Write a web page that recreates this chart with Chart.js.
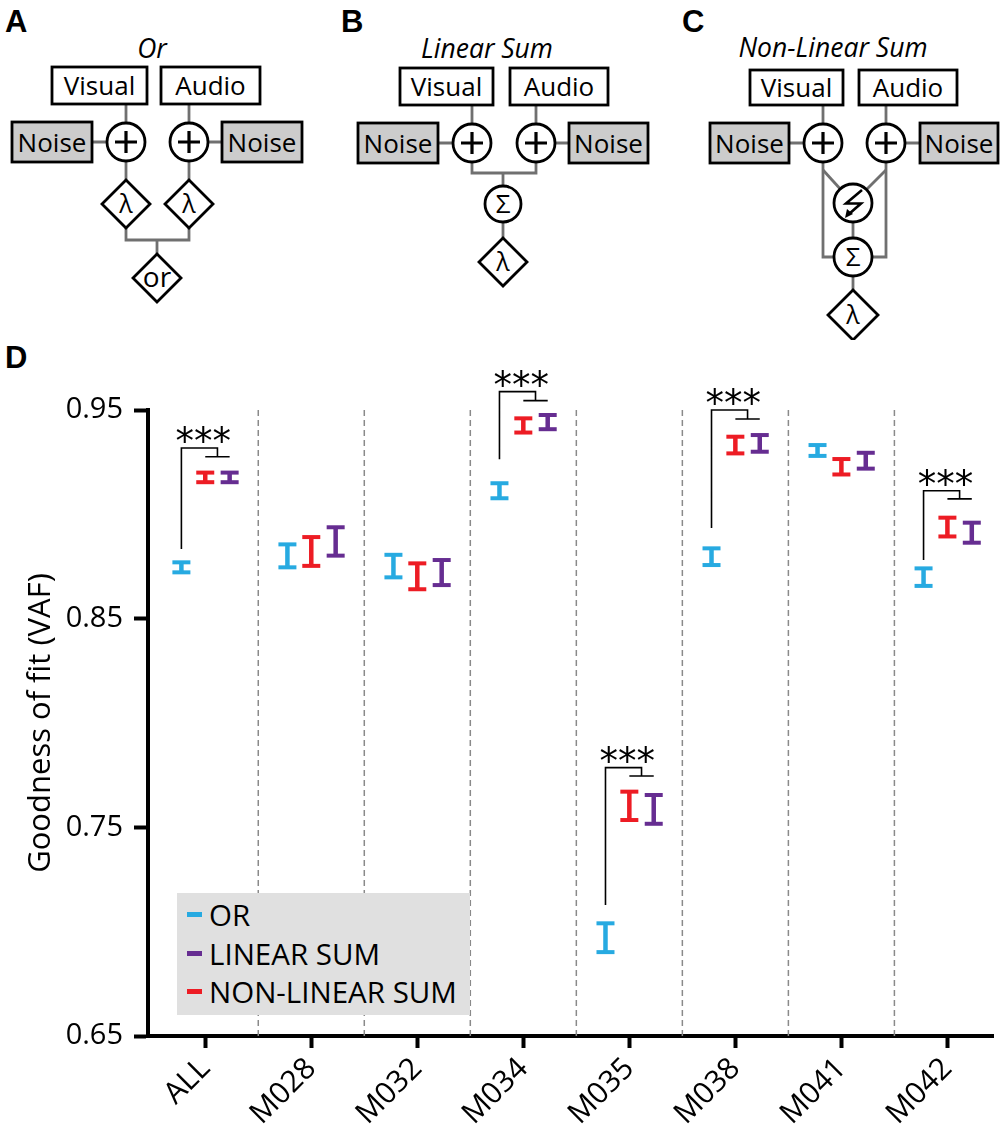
<!DOCTYPE html>
<html>
<head>
<meta charset="utf-8">
<script src="https://cdn.jsdelivr.net/npm/chart.js@4.4.1/dist/chart.umd.min.js"></script>
<style>
  body { margin: 0; background: #fff; }
  #page { position: relative; width: 1006px; height: 1131px; overflow: hidden; font-family: "Open Sans", sans-serif; }
  #diagrams { position: absolute; left: 0; top: 0; }
  #chartBox { position: absolute; left: 0; top: 340px; width: 1006px; height: 791px; }
  .panel { position: absolute; font: bold 31px "Liberation Sans", Arial, sans-serif; line-height: 1; }
  #legend { position: absolute; left: 177px; top: 893px; width: 293px; height: 122px; background: #e0e0e0; }
  .row { position: absolute; left: 0; height: 38px; line-height: 38px; font-size: 29.5px; color: #000; white-space: nowrap; }
  .row span.mark { position: absolute; left: 10px; top: 16px; width: 15px; height: 5px; }
  .row span.txt { position: absolute; left: 32px; top: 0; }
</style>
</head>
<body>
<div id="page">
  <svg id="diagrams" width="1006" height="340" xmlns="http://www.w3.org/2000/svg"></svg>
  <div class="panel" style="left:5px; top:6px;">A</div>
  <div class="panel" style="left:341px; top:6px;">B</div>
  <div class="panel" style="left:682px; top:6px;">C</div>
  <div class="panel" style="left:5px; top:342px;">D</div>
  <div id="chartBox"><canvas id="fit-chart" width="1006" height="791"></canvas></div>
  <div id="legend"></div>
</div>
<script>
// values
const categories = ['ALL', 'M028', 'M032', 'M034', 'M035', 'M038', 'M041', 'M042'];
const yTicks = [0.65, 0.75, 0.85, 0.95];

const orMean  = [0.8746, 0.8801, 0.8752, 0.9113, 0.6971, 0.8797, 0.9306, 0.8699];
const orErr   = [0.0024, 0.0055, 0.0054, 0.0036, 0.0069, 0.0040, 0.0026, 0.0042];
const linMean = [0.9177, 0.8870, 0.8721, 0.9442, 0.7586, 0.9340, 0.9257, 0.8912];
const linErr  = [0.0023, 0.0068, 0.0060, 0.0034, 0.0069, 0.0040, 0.0038, 0.0048];
const nlMean  = [0.9177, 0.8822, 0.8703, 0.9426, 0.7603, 0.9332, 0.9228, 0.8939];
const nlErr   = [0.0023, 0.0069, 0.0062, 0.0034, 0.0068, 0.0040, 0.0037, 0.0045];

// significance brackets (***)
const sigGroups  = ['ALL', 'M034', 'M035', 'M038', 'M042'];
const bracketLow = [0.8834, 0.9264, 0.7128, 0.8935, 0.8781];
const bracketTop = [0.9318, 0.9588, 0.7786, 0.9500, 0.9113];
const bracketSub = [0.9276, 0.9545, 0.7746, 0.9457, 0.9074];

const BLUE = 'rgb(39, 170, 225)';
const PURPLE = 'rgb(102, 45, 145)';
const RED = 'rgb(237, 28, 36)';

// ---------- panels A-C (model diagrams) ----------
const svg = document.getElementById('diagrams');
const WIRE = '#707070';
let out = '';

function wire(pts) {
    out += `<polyline points="${pts.join(' ')}" fill="none" stroke="${WIRE}" stroke-width="2.8"/>`;
}
function box(x1, y1, x2, y2, label, gray) {
    out += `<rect x="${x1}" y="${y1}" width="${x2 - x1}" height="${y2 - y1}" fill="${gray ? '#cccccc' : '#fff'}" stroke="#000" stroke-width="2.8"/>`;
    out += `<text x="${(x1 + x2) / 2}" y="${(y1 + y2) / 2 + 9.5}" font-size="26" text-anchor="middle">${label}</text>`;
}
function plus(cx, cy) {
    out += `<circle cx="${cx}" cy="${cy}" r="19" fill="#fff" stroke="#000" stroke-width="2.8"/>`;
    out += `<path d="M${cx - 11} ${cy} H${cx + 11} M${cx} ${cy - 11} V${cy + 11}" stroke="#000" stroke-width="3.2"/>`;
}
function circ(cx, cy, r, label) {
    out += `<circle cx="${cx}" cy="${cy}" r="${r}" fill="#fff" stroke="#000" stroke-width="2.8"/>`;
    if (label) out += `<text x="${cx}" y="${cy + 9}" font-size="26" text-anchor="middle">${label}</text>`;
}
function diamond(cx, cy, h, label, size) {
    out += `<polygon points="${cx},${cy - h} ${cx + h},${cy} ${cx},${cy + h} ${cx - h},${cy}" fill="#fff" stroke="#000" stroke-width="2.8"/>`;
    out += `<text x="${cx}" y="${cy + 8.5}" font-size="${size || 25}" text-anchor="middle">${label}</text>`;
}
function title(x, y, t) {
    out += `<text x="${x}" y="${y}" font-size="26.5" font-style="italic" text-anchor="middle">${t}</text>`;
}

// A: Or
title(152, 58, 'Or');
wire([126, 104, 126, 180]); wire([189, 104, 189, 180]);
wire([92, 142, 126, 142]); wire([189, 142, 222, 142]);
wire([126, 228, 126, 240, 189, 240, 189, 228]); wire([157, 240, 157, 254]);
box(52, 67, 147, 104, 'Visual'); box(161, 67, 260, 104, 'Audio');
box(12, 122, 92, 162, 'Noise', true); box(222, 122, 302, 162, 'Noise', true);
plus(126, 142); plus(189, 142);
diamond(126, 204, 24, 'λ'); diamond(189, 204, 24, 'λ');
diamond(157, 278, 24, 'or', 28);

// B: Linear Sum
title(487, 58, 'Linear Sum');
wire([472, 105, 472, 173, 536, 173, 536, 105]);
wire([438, 143, 472, 143]); wire([536, 143, 569, 143]);
wire([503, 173, 503, 262]);
box(400, 68, 493, 105, 'Visual'); box(510, 68, 608, 105, 'Audio');
box(358, 123, 438, 163, 'Noise', true); box(569, 123, 648, 163, 'Noise', true);
plus(472, 143); plus(536, 143);
circ(503, 204, 18, 'Σ');
diamond(503, 262, 24, 'λ');

// C: Non-Linear Sum
title(833, 57, 'Non-Linear Sum');
wire([789, 143, 823, 143]); wire([886, 143, 920, 143]);
wire([823, 105, 823, 257, 853, 257]); wire([886, 105, 886, 257, 853, 257]);
wire([823, 170, 843, 192]); wire([886, 170, 864, 192]);
wire([853, 203, 853, 315]);
box(750, 70, 843, 105, 'Visual'); box(859, 70, 957, 105, 'Audio');
box(710, 123, 789, 163, 'Noise', true); box(920, 123, 998, 163, 'Noise', true);
plus(823, 143); plus(886, 143);
circ(853, 203, 19, '');
out += '<path d="M862 190 L846 203.5 L861 203.5 L849 214" fill="none" stroke="#000" stroke-width="2.6"/>';
out += '<path d="M845 218 L847 209 L853 214 Z" fill="#000"/>';
circ(853, 257, 19, 'Σ');
diamond(853, 315, 25, 'λ');

svg.innerHTML = out;

// ---------- legend ----------
const legendItems = [['OR', BLUE], ['LINEAR SUM', PURPLE], ['NON-LINEAR SUM', RED]];
document.getElementById('legend').innerHTML = legendItems.map((it, k) =>
    `<div class="row" style="top:${3 + k * 38.5}px"><span class="mark" style="background:${it[1]}"></span><span class="txt">${it[0]}</span></div>`
).join('');

// ---------- panel D ----------
function errorStems(means, errs, off) {
    const pts = [];
    means.forEach((m, i) => {
        pts.push({x: i + off, y: m - errs[i]}, {x: i + off, y: m + errs[i]}, {x: i + off, y: null});
    });
    return pts;
}
function errorCaps(means, errs, off) {
    return means.flatMap((m, i) => [{x: i + off, y: m - errs[i]}, {x: i + off, y: m + errs[i]}]);
}
function series(means, errs, off, color) {
    return [{
        data: errorStems(means, errs, off),
        borderColor: color, borderWidth: 4.5, pointRadius: 0, clip: false
    }, {
        data: errorCaps(means, errs, off),
        showLine: false, pointStyle: 'line', pointRadius: 9,
        pointBorderColor: color, pointBorderWidth: 4, clip: false
    }];
}

const bracketPts = [];
sigGroups.forEach((g, k) => {
    const i = categories.indexOf(g);
    bracketPts.push(
        {x: i - 0.225, y: bracketLow[k]}, {x: i - 0.225, y: bracketTop[k]},
        {x: i + 0.115, y: bracketTop[k]}, {x: i + 0.115, y: bracketSub[k]}, {x: i, y: null},
        {x: i, y: bracketSub[k]}, {x: i + 0.23, y: bracketSub[k]}, {x: i, y: null}
    );
});

const sepPts = [];
for (let k = 0; k < categories.length - 1; k++) {
    sepPts.push({x: k + 0.5, y: yTicks[yTicks.length - 1]}, {x: k + 0.5, y: yTicks[0]}, {x: k + 0.5, y: null});
}

const starsPlugin = {
    id: 'stars',
    afterDatasetsDraw(chart) {
        const {ctx, scales: {x, y}} = chart;
        ctx.save();
        ctx.font = '37px "DejaVu Sans"';
        ctx.textAlign = 'center';
        ctx.textBaseline = 'alphabetic';
        ctx.fillStyle = '#000';
        sigGroups.forEach((g, k) => {
            const i = categories.indexOf(g);
            ctx.fillText('***', x.getPixelForValue(i) - 2, y.getPixelForValue(bracketTop[k]) + 6);
        });
        ctx.restore();
    }
};

new Chart(document.getElementById('fit-chart').getContext('2d'), {
    type: 'line',
    data: {
        datasets: [
            ...series(orMean, orErr, -0.225, BLUE),
            ...series(nlMean, nlErr, 0, RED),
            ...series(linMean, linErr, 0.23, PURPLE),
            {data: bracketPts, borderColor: '#000', borderWidth: 1.6, pointRadius: 0, clip: false},
            {data: sepPts, borderColor: '#8a8a8a', borderWidth: 1.5, borderDash: [6, 4], pointRadius: 0}
        ]
    },
    options: {
        responsive: false,
        animation: false,
        events: [],
        layout: {padding: {top: 70, right: 11, left: 0, bottom: 0}},
        plugins: {legend: {display: false}, tooltip: {enabled: false}},
        elements: {line: {tension: 0, borderCapStyle: 'butt'}},
        scales: {
            x: {
                type: 'linear',
                min: -0.54,
                max: 7.43,
                afterBuildTicks: scale => { scale.ticks = categories.map((c, i) => ({value: i})); },
                afterFit: scale => { scale.height = 95; },
                ticks: {
                    callback: value => categories[value],
                    autoSkip: false, minRotation: 45, maxRotation: 45,
                    font: {family: 'Open Sans', size: 30}, color: '#000', padding: 3
                },
                grid: {drawOnChartArea: false, drawTicks: true, tickLength: 12, tickWidth: 4, tickColor: '#000'},
                border: {display: true, color: '#000', width: 4}
            },
            y: {
                min: 0.65,
                max: 0.95,
                afterBuildTicks: scale => { scale.ticks = yTicks.map(v => ({value: v})); },
                afterFit: scale => { scale.width = 148; },
                ticks: {
                    callback: value => value.toFixed(2),
                    font: {family: 'Open Sans', size: 29}, color: '#000', padding: 11
                },
                title: {
                    display: true, text: 'Goodness of fit (VAF)',
                    font: {family: 'Open Sans', size: 31}, color: '#000', padding: {top: 23, bottom: 0}
                },
                grid: {drawOnChartArea: false, drawTicks: true, tickLength: 14, tickWidth: 4, tickColor: '#000'},
                border: {display: true, color: '#000', width: 4}
            }
        }
    },
    plugins: [starsPlugin]
});
</script>
</body>
</html>
